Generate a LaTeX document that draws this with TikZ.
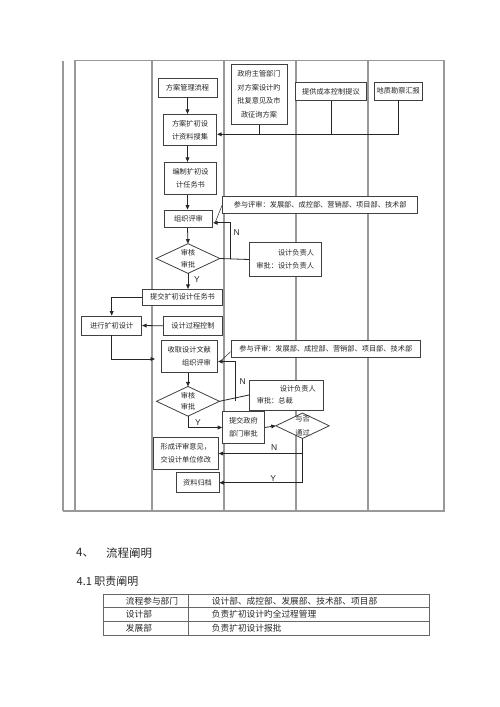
\documentclass[tikz,border=0pt]{standalone}
\usepackage{fontspec}
\setmainfont{Noto Sans CJK SC}
\newfontfamily\lat{Liberation Sans}
\usetikzlibrary{arrows.meta,calc}
\pgfdeclarelayer{bg}
\pgfdeclarelayer{mid}
\pgfsetlayers{bg,mid,main}
\newcommand\fzs{\fontsize{7.2}{12.6}\selectfont}
\tikzset{
  lane/.style={draw=black!40, line width=1.1pt},
  box/.style={draw=black!75, fill=white, line width=0.8pt, inner sep=0pt, align=center, font=\fzs, text=black!85},
  dia/.style={inner sep=0pt, align=center, font=\fzs, text=black!85},
  arr/.style={-{Triangle[length=4.5pt,width=3.8pt]}, line width=0.8pt, draw=black!85},
  ln/.style={line width=0.8pt, draw=black!85},
  yn/.style={font=\lat\fontsize{8.5}{8.5}\selectfont, inner sep=0pt, text=black!85},
  tline/.style={draw=black!60, line width=0.7pt},
  ttxt/.style={font=\fontsize{8.7}{8.7}\selectfont, inner sep=0pt, anchor=west, text=black!85},
}
\begin{document}
\begin{tikzpicture}[x=1pt,y=-1pt]
\useasboundingbox (0,0) rectangle (500,707);
% lanes
\begin{pgfonlayer}{bg}
\draw[lane] (63,60.7) -- (63,511);
\draw[lane] (75,511) -- (75,60.7) -- (444,60.7) -- (444,511) -- (63,511);
\foreach \x in {152,224,296,368} \draw[lane] (\x,60.7) -- (\x,511);
\end{pgfonlayer}
\coordinate (busy) at (0,134.3);
\coordinate (n1x) at (230.7,0);
\coordinate (n2x) at (235.5,0);
\coordinate (sqin) at (155,359);
% nodes
\node[box, minimum width=59, minimum height=19] (gl) at (187.5,87.5) {方案管理流程};
\node[box, minimum width=56, minimum height=60, font=\fontsize{7.2}{13.4}\selectfont] (gov) at (259,94.2) {政府主管部门\\对方案设计旳\\批复意见及市\\政征询方案};
\node[box, minimum width=53.4, minimum height=31.4] (sj) at (190,130) {方案扩初设\\计资料搜集};
\node[box, minimum width=70.3, minimum height=18.4] (cb) at (330.9,91.5) {提供成本控制提议};
\node[box, minimum width=48, minimum height=17.7] (dz) at (398.3,91.2) {地质勘察汇报};
\node[box, minimum width=52.4, minimum height=32] (bz) at (190.5,178.3) {编制扩初设\\计任务书};
\node[box, minimum width=48.4, minimum height=17.7] (ps) at (188.5,218.8) {组织评审};
\node[box, minimum width=195, minimum height=17.3] (cy1) at (320.2,204.7) {参与评审：发展部、成控部、营销部、项目部、技术部};
\node[dia, minimum width=63.3, minimum height=29.3, font=\fontsize{7.2}{11.7}\selectfont] (d1) at (188,258.5) {审核\\审批};
\node[box, minimum width=71.7, minimum height=34.4, align=right] (fz1) at (285.2,259.5) {设计负责人\\审批：设计负责人};
\node[box, minimum width=80.4, minimum height=15.7] (tj) at (182.5,297.2) {提交扩初设计任务书};
\node[box, minimum width=60, minimum height=19] (jx) at (111.7,325.5) {进行扩初设计};
\node[box, minimum width=59.4, minimum height=18.3] (kz) at (193,325.8) {设计过程控制};
\node[box, minimum width=56.7, minimum height=31.6, align=right] (sq) at (189.3,356.5) {收取设计文献\\组织评审};
\node[box, minimum width=189.7, minimum height=17] (cy2) at (325.8,349.2) {参与评审：发展部、成控部、营销部、项目部、技术部};
\node[dia, minimum width=62.6, minimum height=29.3, font=\fontsize{7.2}{11.7}\selectfont] (d2) at (188,401.3) {审核\\审批};
\node[box, minimum width=74, minimum height=30, align=left, font=\fontsize{7.2}{11.7}\selectfont] (fz2) at (286.3,395) {\hspace*{23pt}设计负责人\\审批：总裁};
\node[box, minimum width=41.7, minimum height=31.6] (zf) at (243.4,427.5) {提交政府\\部门审批};
\node[dia, minimum width=53, minimum height=25, font=\fontsize{7.2}{14}\selectfont] (d3) at (302.5,425.8) {与否\\通过};
\node[box, minimum width=65, minimum height=31.6] (xc) at (185.8,453.5) {形成评审意见，\\交设计单位修改};
\node[box, minimum width=43, minimum height=20] (gd) at (197.5,482.7) {资料归档};
% diamonds
\begin{pgfonlayer}{mid}
\foreach \d in {d1,d2,d3}
  \draw[fill=white, draw=black!75, line width=0.8pt] (\d.north) -- (\d.east) -- (\d.south) -- (\d.west) -- cycle;
\end{pgfonlayer}
% connectors
\draw[arr] (gl.south) -- (gl.south |- sj.north);
\draw[arr] (gl.south |- sj.south) -- (gl.south |- bz.north);
\draw[arr] (gl.south |- bz.south) -- (gl.south |- ps.north);
\draw[arr] (gl.south |- ps.south) -- (d1.north);
\draw[arr] (dz.south) |- (sj.east |- busy);
\draw[ln] (gov.south) -- (gov.south |- busy);
\draw[ln] (cb.south) -- (cb.south |- busy);
\draw[ln] (d1.east) -- (fz1.west);
\draw[arr] (d1.east -| n1x) |- ([yshift=-4pt]ps.east);
\draw[line width=0.6pt, draw=black!75] (cy1.west) -- ([xshift=2pt,yshift=-4pt]ps.east);
\draw[arr] (d1.south) -- (d1.south |- tj.north);
\draw[arr] (tj.west) -| (jx.north);
\draw[arr] (kz.west) -- (jx.east);
\draw[arr] (jx.south) |- (sqin);
\draw[arr] (sq.south -| d2.north) -- (d2.north);
\draw[ln] (d2.east) -- (fz2.west);
\draw[arr] (d2.east -| n2x) |- ([yshift=-5pt]sq.east);
\draw[line width=0.6pt, draw=black!75] ([yshift=-2.5pt]cy2.west) -- ([xshift=2pt,yshift=-5pt]sq.east);
\draw[arr] (d2.south) |- (zf.west);
\draw[arr] (zf.east) -- (d3.west);
\draw[arr] (d3.south) |- (xc.east);
\draw[arr] (d3.south) |- (gd.east);
% labels
\node[yn] (l1) at (236.7,232.7) {N};
\node[yn] (l2) at (197,280) {Y};
\node[yn] (l3) at (242.7,382) {N};
\node[yn] (l4) at (198,422.7) {Y};
\node[yn] (l5) at (274.3,447.7) {N};
\node[yn] (l6) at (273.3,478.3) {Y};
% headings
\node[anchor=west, inner sep=0pt, font=\fontsize{11.5}{11.5}\selectfont, text=black!85] (h4a) at (76,552.7) {4、};
\node[anchor=west, inner sep=0pt, font=\fontsize{11.5}{11.5}\selectfont, text=black!85] (h4b) at (106,552.7) {流程阐明};
\node[anchor=west, inner sep=0pt, font=\fontsize{11}{11}\selectfont, text=black!85] (h41) at (76.5,581) {4.1 职责阐明};
% table
\draw[tline] (103.3,594.3) rectangle (429.3,635.3);
\draw[tline] (103.3,607.6) -- (429.3,607.6);
\draw[tline] (103.3,621) -- (429.3,621);
\draw[tline] (188.3,594.3) -- (188.3,635.3);
\node[ttxt] (t11) at (125.7,601) {流程参与部门};
\node[ttxt] (t12) at (211.7,601) {设计部、成控部、发展部、技术部、项目部};
\node[ttxt] (t21) at (125.7,614.3) {设计部};
\node[ttxt] (t22) at (211.7,614.3) {负责扩初设计旳全过程管理};
\node[ttxt] (t31) at (125.7,628.2) {发展部};
\node[ttxt] (t32) at (211.7,628.2) {负责扩初设计报批};
\end{tikzpicture}
\end{document}
